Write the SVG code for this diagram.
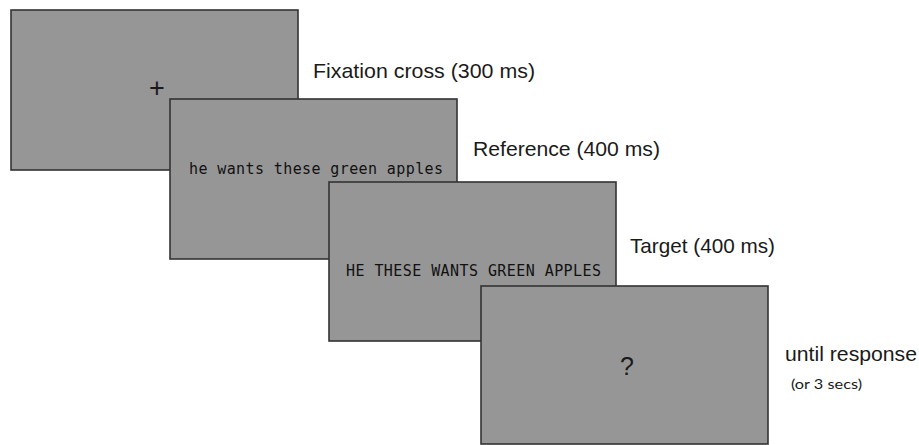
<svg xmlns="http://www.w3.org/2000/svg" width="919" height="445" viewBox="0 0 919 445">
<style>
.screen{fill:#969696;stroke:#333;stroke-width:1.6}
.lbl{font-family:"Liberation Sans",Arial,sans-serif;font-size:21px;fill:#1a1a1a}
.mono{font-family:"DejaVu Sans Mono","Liberation Mono",monospace;font-size:15px;fill:#111}
.sym{font-family:"Liberation Sans",Arial,sans-serif;fill:#1a1a1a;text-anchor:middle}
.small{font-family:"Lato","Open Sans",sans-serif;font-size:14px;fill:#1a1a1a}
</style>
<rect width="919" height="445" fill="#fff"/>
<g id="fixation">
<rect class="screen" x="11" y="10" width="287" height="160"/>
<text class="sym" x="157" y="97" font-size="27">+</text>
<text class="lbl" x="313" y="78" textLength="222" lengthAdjust="spacingAndGlyphs">Fixation cross (300 ms)</text>
</g>
<g id="reference">
<rect class="screen" x="170" y="99" width="287" height="160"/>
<text class="mono" x="189" y="174" textLength="254" lengthAdjust="spacing">he wants these green apples</text>
<text class="lbl" x="473" y="156" textLength="187" lengthAdjust="spacingAndGlyphs">Reference (400 ms)</text>
</g>
<g id="target">
<rect class="screen" x="329" y="182" width="287" height="159"/>
<text class="mono" x="346" y="276" textLength="255" lengthAdjust="spacing">HE THESE WANTS GREEN APPLES</text>
<text class="lbl" x="630" y="253" textLength="145" lengthAdjust="spacingAndGlyphs">Target (400 ms)</text>
</g>
<g id="response">
<rect class="screen" x="481" y="286" width="287" height="158"/>
<text class="sym" x="627" y="375" font-size="25">?</text>
<text class="lbl" x="785" y="361" textLength="132" lengthAdjust="spacingAndGlyphs">until response</text>
<text class="small" x="791" y="389" textLength="71" lengthAdjust="spacingAndGlyphs">(or 3 secs)</text>
</g>
<g id="connectors"/>
</svg>
